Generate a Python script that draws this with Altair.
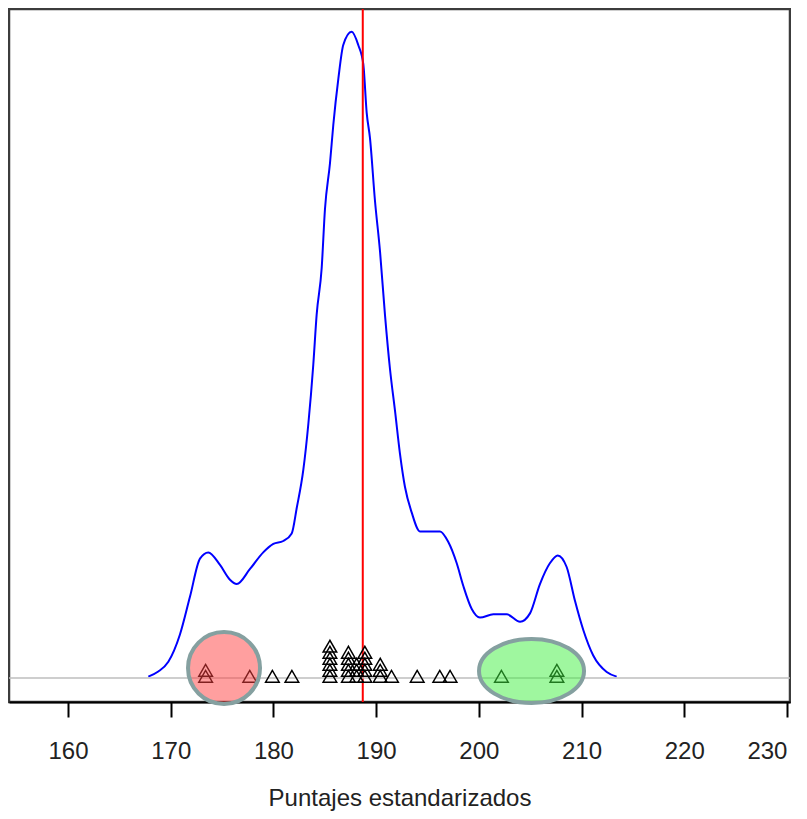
import altair as alt
import pandas as pd

# Density curve
curve_x = [167.82, 168.79, 169.77, 170.90, 171.88, 172.85, 173.66, 174.80, 175.77, 176.43,
           177.72, 179.01, 179.99, 180.96, 181.78, 182.27, 182.91, 183.40, 183.88, 184.21,
           184.70, 185.02, 185.51, 185.83, 186.32, 186.80, 187.62, 188.26, 188.75, 189.08,
           189.40, 189.89, 190.38, 190.86, 191.35, 191.84, 192.32, 192.81, 193.46, 194.27,
           196.22, 197.03, 197.84, 198.49, 199.31, 200.11, 201.41, 202.71, 204.01, 204.98,
           205.95, 206.93, 207.68, 208.55, 209.36, 210.17, 211.14, 212.45, 213.42]
curve_density = [0.00018, 0.00083, 0.00208, 0.00557, 0.01043, 0.01529, 0.01609, 0.01448, 0.01259, 0.01204,
                 0.01397, 0.01609, 0.01717, 0.01755, 0.01851, 0.02178, 0.02665, 0.03254, 0.04010, 0.04656,
                 0.05253, 0.06009, 0.06598, 0.07085, 0.07675, 0.08110, 0.08279, 0.08110, 0.07867, 0.07244,
                 0.06919, 0.06111, 0.05464, 0.04656, 0.03959, 0.03421, 0.02876, 0.02447, 0.02122, 0.01878,
                 0.01878, 0.01742, 0.01473, 0.01179, 0.00884, 0.00774, 0.00816, 0.00816, 0.00720, 0.00828,
                 0.01204, 0.01473, 0.01571, 0.01422, 0.00989, 0.00615, 0.00288, 0.00077, 0.00018]

# Individual scores (stacked when equal)
scores = [173.4, 173.4, 177.7, 179.9, 181.8,
          185.5, 185.5, 185.5, 185.5, 185.5, 185.5,
          187.3, 187.3, 187.3, 187.3, 187.3,
          188.1, 188.1, 188.1,
          188.9, 188.9, 188.9, 188.9, 188.9,
          190.4, 190.4, 190.4,
          191.5, 194.0, 196.2, 197.2, 202.2, 207.6, 207.6]

mean_value = [188.7]

# Highlight regions
low_center = [175.19]
low_level = [0.00128]
high_center = [205.13]
high_level = [0.0009]

tick_values = [160, 170, 180, 190, 200, 210, 220, 230]

STACK_BASE = 0.00022
STACK_STEP = 0.00077

curve_df = pd.DataFrame({"x": curve_x, "d": curve_density})
pts = pd.DataFrame({"x": scores})
pts["k"] = pts.groupby("x").cumcount()
pts["y"] = STACK_BASE + pts["k"] * STACK_STEP
mean_df = pd.DataFrame({"x": mean_value})
low_df = pd.DataFrame({"x": low_center, "y": low_level})
high_df = pd.DataFrame({"x": high_center, "y": high_level})

xs = alt.Scale(domain=[154.256, 230.296], nice=False, zero=False)
ys = alt.Scale(domain=[-0.003075, 0.08571], nice=False, zero=False)

FONT = "Liberation Sans"
x_axis = alt.Axis(values=tick_values, tickSize=15, tickWidth=2, tickColor="black",
                  domainColor="black", domainWidth=2, grid=False,
                  labelFont=FONT, labelFontSize=24, labelColor="#222222", labelPadding=22,
                  labelFlush=False,
                  labelAlign=alt.condition("datum.value >= 230", alt.value("right"), alt.value("center")),
                  title="Puntajes estandarizados", titleFont=FONT,
                  titleFontSize=24, titleFontWeight="normal", titleColor="#222222",
                  titlePadding=23, zindex=0)

line = alt.Chart(curve_df).mark_line(color="#0000ff", strokeWidth=2, interpolate="monotone").encode(
    x=alt.X("x:Q", scale=xs, axis=x_axis),
    y=alt.Y("d:Q", scale=ys, axis=None),
)

rule = alt.Chart(mean_df).mark_rule(color="#ff0000", strokeWidth=2).encode(x=alt.X("x:Q", scale=xs))

base = alt.Chart(mean_df).mark_rule(color="#bebebe", strokeWidth=1.5).encode(y=alt.datum(0, scale=ys))

tri = alt.Chart(pts).mark_point(shape="triangle-up", size=185, filled=False, color="black",
                                strokeWidth=1.5, opacity=1).encode(
    x=alt.X("x:Q", scale=xs),
    y=alt.Y("y:Q", scale=ys),
)

circle_path = "M -1 0 A 1 1 0 1 0 1 0 A 1 1 0 1 0 -1 0 Z"
ellipse_path = "M -1 0 A 1 0.61 0 1 0 1 0 A 1 0.61 0 1 0 -1 0 Z"

low = alt.Chart(low_df).mark_point(shape=circle_path, size=5184, filled=True, fill="#ff4040",
                                   fillOpacity=0.5, stroke="#85a0a0", strokeWidth=4,
                                   strokeOpacity=1, opacity=1).encode(
    x=alt.X("x:Q", scale=xs), y=alt.Y("y:Q", scale=ys))

high = alt.Chart(high_df).mark_point(shape=ellipse_path, size=11025, filled=True, fill="#40f040",
                                     fillOpacity=0.5, stroke="#85a0a0", strokeWidth=4,
                                     strokeOpacity=1, opacity=1).encode(
    x=alt.X("x:Q", scale=xs), y=alt.Y("y:Q", scale=ys))

chart = alt.layer(line, rule, base, tri, low, high).properties(
    width=781, height=693,
    autosize=alt.AutoSizeParams(type="none"),
    padding={"left": 1, "top": 1, "right": 1, "bottom": 109},
).configure_view(stroke="#3c3c3c", strokeWidth=2.5)

chart.save("out.html", embed_options={"renderer": "svg", "actions": False})
